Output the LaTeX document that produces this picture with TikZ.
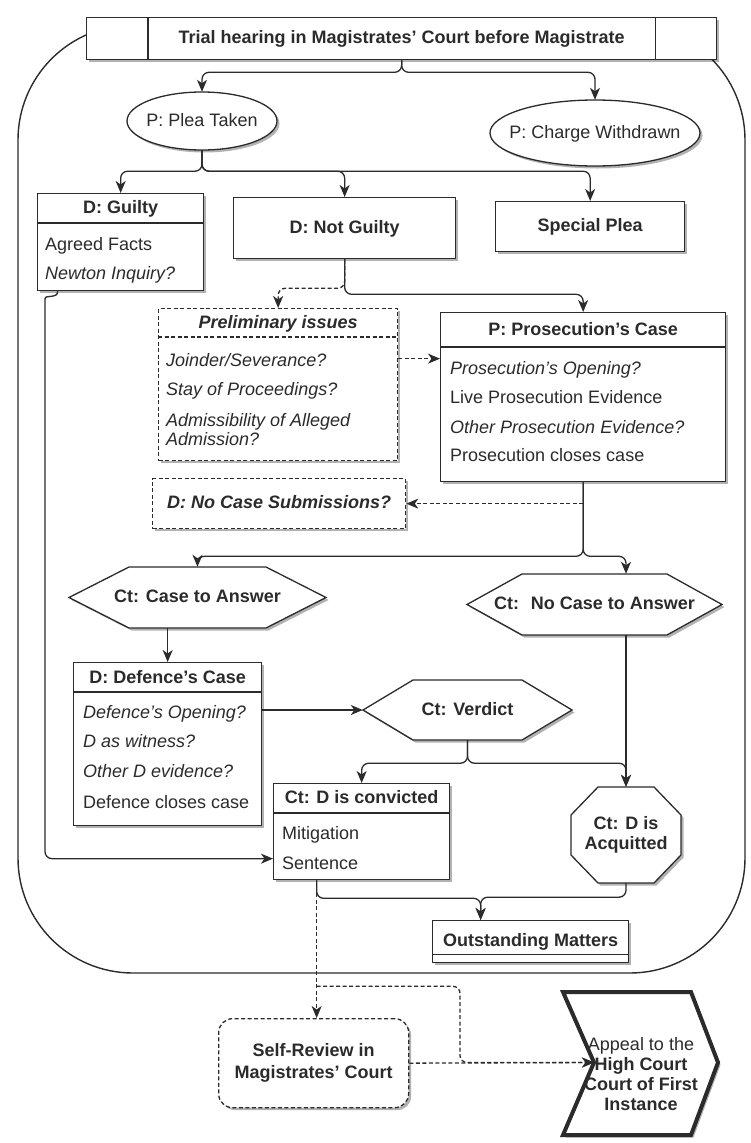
\documentclass[tikz,border=0pt]{standalone}
\usepackage{fontspec}
\setmainfont{Liberation Sans}
\usetikzlibrary{arrows.meta,shadows}
\definecolor{ink}{HTML}{2B2B2B}
\begin{document}
\begin{tikzpicture}[x=1pt,y=-1pt,
  font=\fontsize{18}{20}\selectfont, text=ink,
  every node/.style={inner sep=0pt},
  shade/.style={drop shadow={shadow xshift=2.5pt,shadow yshift=-2.5pt,opacity=.3,fill=black}},
  outline/.style={draw=ink, line width=1.3pt, fill=white, shade},
  box/.style={outline, anchor=north west},
  dashline/.style={dash pattern=on 4pt off 2.5pt},
  dbox/.style={box, dashline},
  one/.style={text height=13pt, text depth=3pt},
  hd/.style={one, font=\fontsize{18}{20}\selectfont\bfseries},
  hdi/.style={one, font=\fontsize{18}{20}\selectfont\bfseries\itshape},
  item/.style={anchor=base west},
  iitem/.style={item, font=\fontsize{18}{20}\selectfont\itshape},
  rule/.style={draw=ink, line width=1.3pt},
  conn/.style={draw=ink, line width=1.3pt, rounded corners=7pt,
    -{Stealth[length=12pt,width=10pt,inset=3.5pt]}},
  dconn/.style={conn, dashline},
]
\useasboundingbox (0,0) rectangle (751,1143);

% surrounding frame of the trial hearing
\draw[draw=ink, line width=1.4pt, rounded corners=115pt] (18,25) rectangle (745,973);

% title bar
\node[box, hd, minimum width=630, minimum height=42] (title) at (86,17)
  {Trial hearing in Magistrates' Court before Magistrate};
\draw[rule] ([xshift=62pt]title.north west) -- ([xshift=62pt]title.south west);
\draw[rule] ([xshift=-62pt]title.north east) -- ([xshift=-62pt]title.south east);

% pleas
\draw[outline] (202,121) ellipse [x radius=75pt, y radius=29pt];
\node[one, minimum width=150, minimum height=58] (plea) at (202,121) {P: Plea Taken};
\draw[outline] (595,133) ellipse [x radius=105pt, y radius=33pt];
\node[one, minimum width=210, minimum height=66] (withdrawn) at (595,133) {P: Charge Withdrawn};

% guilty plea
\node[box, minimum width=166, minimum height=97] (guilty) at (37,193) {};
\draw[rule] ([yshift=-30pt]guilty.north west) -- ([yshift=-30pt]guilty.north east);
\node[hd] (guilty-t) at ([yshift=-15pt]guilty.north) {D: Guilty};
\node[item] (guilty-1) at (45,250.5) {Agreed Facts};
\node[iitem] (guilty-2) at (45,279.5) {Newton Inquiry?};

\node[box, hd, minimum width=222, minimum height=61] (notguilty) at (233,197) {D: Not Guilty};
\node[box, hd, minimum width=189, minimum height=50] (special) at (495,201) {Special Plea};

% preliminary issues
\node[dbox, minimum width=239, minimum height=152] (prelim) at (158,308) {};
\draw[rule, dashline] ([yshift=-29pt]prelim.north west) -- ([yshift=-29pt]prelim.north east);
\node[hdi] (prelim-t) at ([yshift=-15pt]prelim.north) {Preliminary issues};
\node[iitem] (prelim-1) at (166,366.5) {Joinder/Severance?};
\node[iitem] (prelim-2) at (166,395.5) {Stay of Proceedings?};
\node[iitem] (prelim-3) at (166,426.5) {Admissibility of Alleged};
\node[iitem] (prelim-4) at (166,445.5) {Admission?};

% prosecution case
\node[box, minimum width=285, minimum height=169] (pros) at (440,312) {};
\draw[rule] ([yshift=-35pt]pros.north west) -- ([yshift=-35pt]pros.north east);
\node[hd] (pros-t) at ([yshift=-18pt]pros.north) {P: Prosecution's Case};
\node[iitem] (pros-1) at (450,374.5) {Prosecution's Opening?};
\node[item] (pros-2) at (450,403.5) {Live Prosecution Evidence};
\node[iitem] (pros-3) at (450,433.5) {Other Prosecution Evidence?};
\node[item] (pros-4) at (450,461.5) {Prosecution closes case};

\node[dbox, hdi, minimum width=253, minimum height=50] (ncs) at (152,478) {D: No Case Submissions?};

% rulings on the submission
\draw[outline] (69,597.5) -- (129,567) -- (266,567) -- (326,597.5) -- (266,628) -- (129,628) -- cycle;
\node[hd, minimum width=257, minimum height=61] (cta) at (197.5,597.5) {Ct: Case to Answer};
\draw[outline] (467,604.5) -- (522,574) -- (667,574) -- (722,604.5) -- (667,635) -- (522,635) -- cycle;
\node[hd, minimum width=255, minimum height=61] (ncta) at (594.5,604.5) {Ct:~ No Case to Answer};

% defence case
\node[box, minimum width=188, minimum height=163] (defence) at (73,662) {};
\draw[rule] ([yshift=-30pt]defence.north west) -- ([yshift=-30pt]defence.north east);
\node[hd] (defence-t) at ([yshift=-16pt]defence.north) {D: Defence's Case};
\node[iitem] (defence-1) at (83,718.5) {Defence's Opening?};
\node[iitem] (defence-2) at (83,747.5) {D as witness?};
\node[iitem] (defence-3) at (83,777.5) {Other D evidence?};
\node[item] (defence-4) at (83,808.5) {Defence closes case};

% verdict
\draw[outline] (363,710) -- (413,680) -- (522,680) -- (572,710) -- (522,740) -- (413,740) -- cycle;
\node[hd, minimum width=209, minimum height=60] (verdict) at (467.5,710) {Ct: Verdict};

\node[box, minimum width=176, minimum height=96] (convicted) at (273,783) {};
\draw[rule] ([yshift=-30pt]convicted.north west) -- ([yshift=-30pt]convicted.north east);
\node[hd] (convicted-t) at ([yshift=-15pt]convicted.north) {Ct: D is convicted};
\node[item] (convicted-1) at (282,839.5) {Mitigation};
\node[item] (convicted-2) at (282,869.5) {Sentence};

\draw[outline] (598,787) -- (654,787) -- (681,815) -- (681,855) -- (654,883) -- (598,883)
  -- (571,855) -- (571,815) -- cycle;
\node[align=center, font=\fontsize{18}{20}\selectfont\bfseries, minimum width=110, minimum height=96]
  (acq) at (626,835) {Ct: D is\\Acquitted};

% outstanding matters
\node[box, hd, minimum width=196, minimum height=42] (outst) at (432,920) {Outstanding Matters};
\draw[rule] ([yshift=9pt]outst.south west) -- ([yshift=9pt]outst.south east);

% after the hearing
\node[dbox, rounded corners=14pt, align=center, minimum width=190, minimum height=89,
  font=\fontsize{18}{22}\selectfont\bfseries] (selfrev) at (218,1018)
  {Self-Review in\\Magistrates' Court};

\fill[white, shade] (563,992) -- (691,992) -- (718,1062.5) -- (691,1135) -- (563,1135) -- (594,1062.5) -- cycle;
\node[align=center, font=\fontsize{18}{20}\selectfont] (appeal) at (641,1074)
  {Appeal to the\\{\bfseries High Court}\\{\bfseries Court of First}\\{\bfseries Instance}};
\draw[draw=ink, line width=4pt, line join=miter] (563,992) -- (691,992) -- (718,1062.5)
  -- (691,1135) -- (563,1135) -- (594,1062.5) -- cycle;
\coordinate (appeal-in) at (594,1062.5);

% connectors
\draw[conn] (title.south) -- ++(0,12) -| (plea.north);
\draw[conn] (title.south) -- ++(0,12) -| (withdrawn.north);
\draw[conn] (plea.south) -- ++(0,21) -| (guilty.north);
\draw[conn] (plea.south) -- ++(0,21) -| (notguilty.north);
\draw[conn] (plea.south) -- ++(0,21) -| (special.north);
\draw[dconn] (notguilty.south) -- ++(0,29) -| (prelim.north);
\draw[conn] (notguilty.south) -- ++(0,35) -| (pros.north);
\coordinate (pi-out) at ([yshift=26pt]prelim.east);
\draw[dconn] (pi-out) -- (pi-out -| pros.west);
\draw[dconn] (pros.south |- ncs.east) -- (ncs.east);
\draw[conn] (pros.south) -- ++(0,74) -| (cta.north);
\coordinate (ncta-in) at ([xshift=31.5pt]ncta.north);
\draw[conn] (pros.south) -- ++(0,74) -| (ncta-in);
\draw[conn] (defence.north |- cta.south) -- (defence.north);
\draw[conn] (defence.east |- verdict.west) -- (verdict.west);
\draw[conn] (verdict.south) -- ++(0,23) -| (convicted.north);
\draw[conn] (verdict.south) -- ++(0,23) -| (acq.north);
\draw[conn] (acq.north |- ncta.south) -- (acq.north);
\coordinate (g-out) at ([xshift=-63pt]guilty.south);
\coordinate (cv-in) at ([yshift=-27pt]convicted.west);
\draw[conn] (g-out) .. controls ([yshift=-8pt]g-out) and (45,294) .. (45,306) |- (cv-in);
\coordinate (cv-out) at ([xshift=-45pt]convicted.south);
\coordinate (om-in) at ([xshift=-50pt]outst.north);
\draw[dconn] (cv-out) -- (cv-out |- selfrev.north);
\draw[conn] (cv-out) -- ++(0,18) -| (om-in);
\draw[conn] (acq.south) -- ++(0,14) -| (om-in);
\coordinate (sr-tap) at ([yshift=-106pt]cv-out);
\draw[dconn] (sr-tap) -| (460,1062.5) -- (appeal-in);
\draw[dconn] (selfrev.east) -- (appeal-in);
\end{tikzpicture}
\end{document}
